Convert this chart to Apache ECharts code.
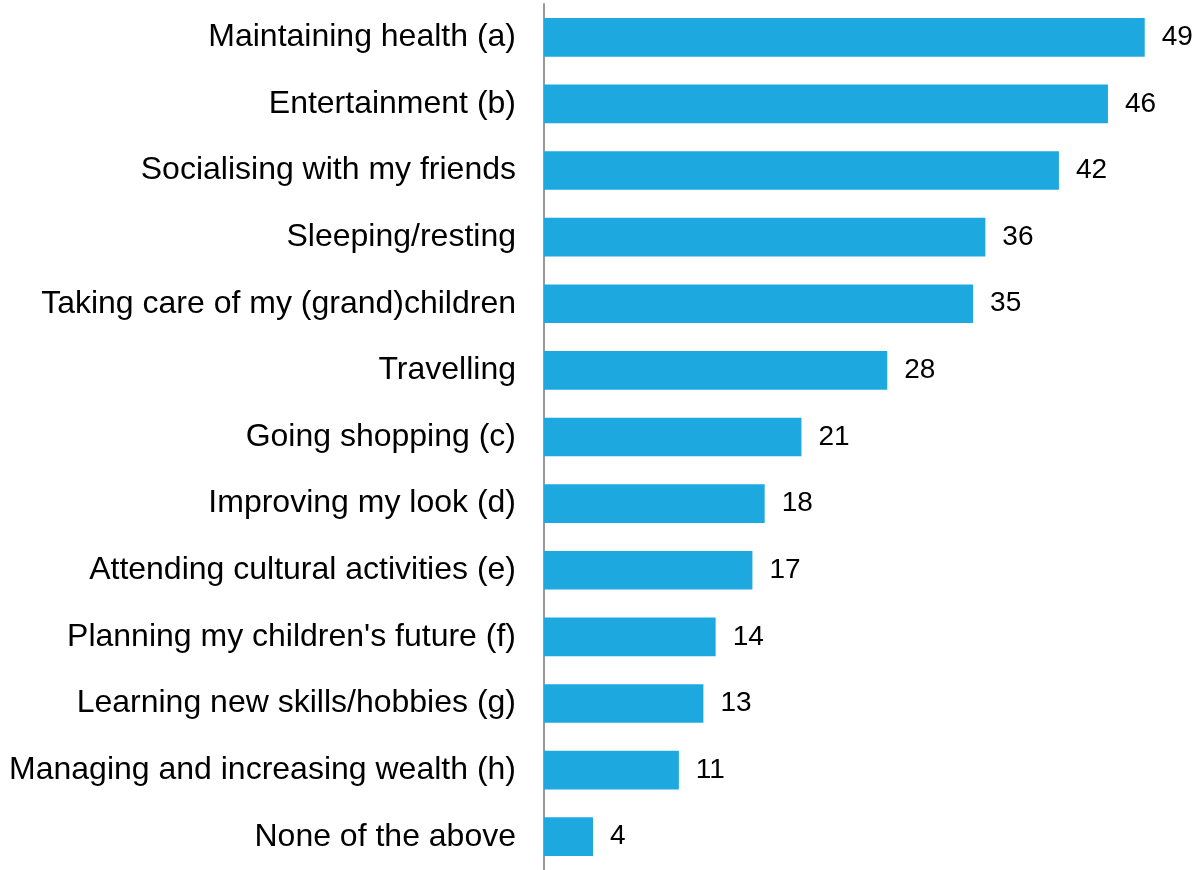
<!DOCTYPE html>
<html>
<head>
<meta charset="utf-8">
<script src="https://cdn.jsdelivr.net/npm/echarts@6/dist/echarts.min.js"></script>
<style>
  html, body { margin: 0; padding: 0; background: #ffffff; }
  #chart { width: 1193px; height: 870px; }
</style>
</head>
<body>
<div id="chart"></div>
<script>
// Activities, listed top to bottom
const categories = [
  "Maintaining health (a)",
  "Entertainment (b)",
  "Socialising with my friends",
  "Sleeping/resting",
  "Taking care of my (grand)children",
  "Travelling",
  "Going shopping (c)",
  "Improving my look (d)",
  "Attending cultural activities (e)",
  "Planning my children's future (f)",
  "Learning new skills/hobbies (g)",
  "Managing and increasing wealth (h)",
  "None of the above"
];
const values = [49, 46, 42, 36, 35, 28, 21, 18, 17, 14, 13, 11, 4];

const chart = echarts.init(document.getElementById('chart'), null, { renderer: 'canvas' });

chart.setOption({
  animation: false,
  backgroundColor: '#ffffff',
  textStyle: { fontFamily: '"Liberation Sans", Arial, sans-serif' },
  grid: { left: 544, right: 36, top: 4, bottom: -4, containLabel: false },
  xAxis: {
    type: 'value',
    min: 0,
    max: 50,
    show: false
  },
  yAxis: {
    type: 'category',
    inverse: true,
    data: categories,
    axisLine: { show: true, lineStyle: { color: '#999999', width: 2 } },
    axisTick: { show: false },
    axisLabel: {
      color: '#000000',
      fontSize: 32,
      margin: 28,
      fontFamily: '"Liberation Sans", Arial, sans-serif'
    },
    splitLine: { show: false }
  },
  series: [{
    type: 'bar',
    data: values,
    barCategoryGap: '42%',
    itemStyle: { color: '#1EA8E0' },
    label: {
      show: true,
      position: 'right',
      distance: 17,
      color: '#000000',
      fontSize: 28,
      fontFamily: '"Liberation Sans", Arial, sans-serif'
    }
  }]
});
</script>
</body>
</html>
